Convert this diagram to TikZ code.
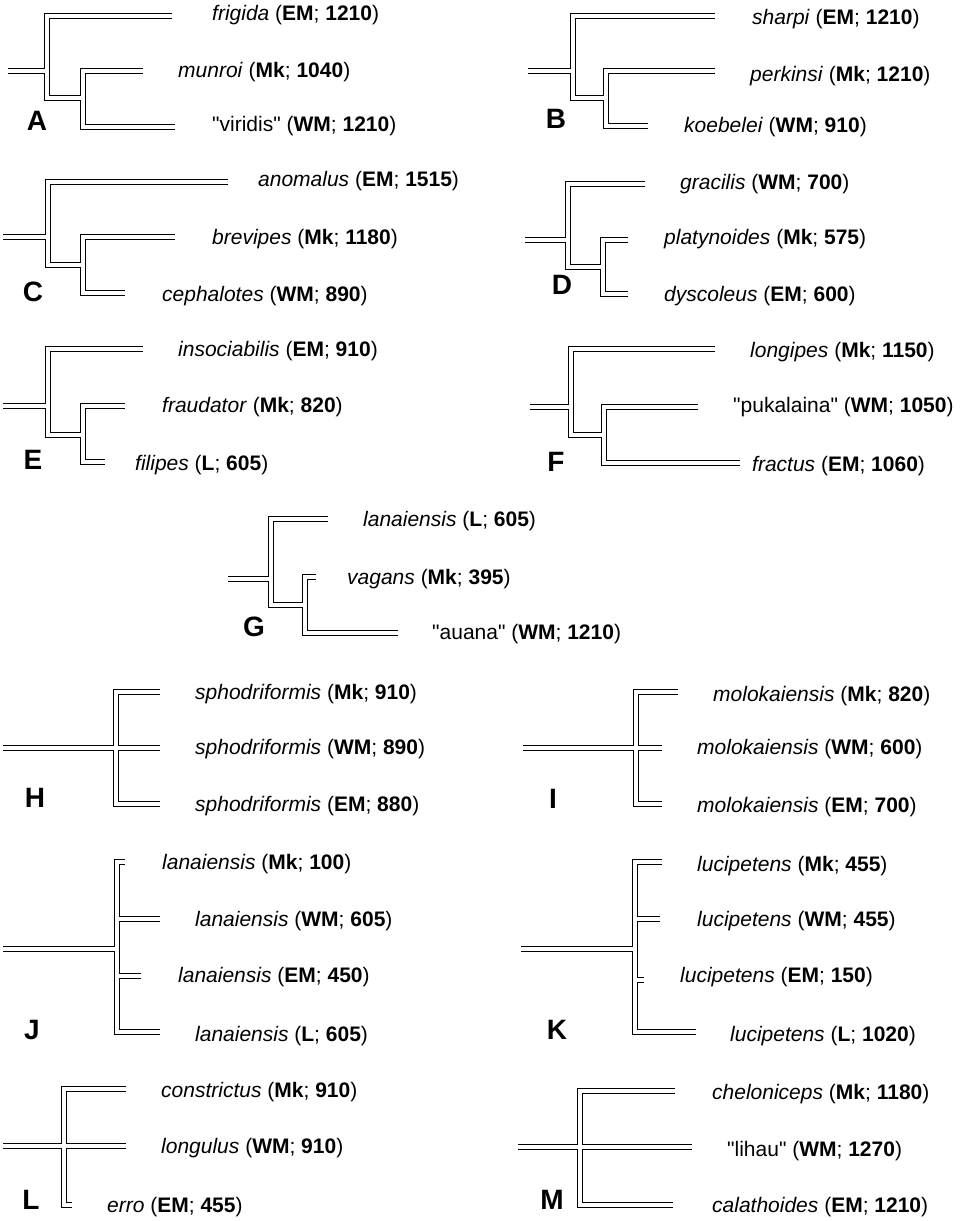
\documentclass[tikz,border=0pt]{standalone}
\usepackage{fontspec}
\setmainfont{Liberation Sans}
\newfontfamily\qfont{Liberation Sans}[Ligatures=TeXOff]
\tikzset{
  blk/.style={line width=5.2pt, draw=black},
  wht/.style={line width=3.2pt, draw=white},
  lab/.style={anchor=mid west, inner sep=0pt, font=\fontsize{21}{25}\selectfont},
  big/.style={inner sep=0pt, font=\fontsize{28}{30}\selectfont\bfseries},
}
% two-level tree: prefix; coordinates r,a,b,c,d,t1,t2,t3
\newcommand\twotree[1]{%
  \foreach \s in {blk,wht}{%
    \draw[\s] (#1t1) -- (#1a) -- (#1b) -- (#1b -| #1c);
    \draw[\s] (#1t2) -- (#1c) -- (#1d) -- (#1t3);
    \draw[\s] (#1r) -- (#1r -| #1a);
  }}
% three tips, root crossing the vertical
\newcommand\crosstree[1]{%
  \foreach \s in {blk,wht}{%
    \draw[\s] (#1t1) -- (#1top) -- (#1bot) -- (#1t3);
    \draw[\s] (#1r) -- (#1t2);
  }}
% four tips
\newcommand\fourtree[1]{%
  \foreach \s in {blk,wht}{%
    \draw[\s] (#1t1) -- (#1top) -- (#1bot) -- (#1t4);
    \draw[\s] (#1r) -- (#1r -| #1top);
    \draw[\s] (#1t2 -| #1top) -- (#1t2);
    \draw[\s] (#1t3 -| #1top) -- (#1t3);
  }}
\newcommand\spl[3]{\textit{#1} (\textbf{#2}; \textbf{#3})}
\newcommand\qspl[3]{{\qfont"#1"} (\textbf{#2}; \textbf{#3})}
\begin{document}
\begin{tikzpicture}[x=1pt,y=-1pt]
\useasboundingbox[fill=white] (0,0) rectangle (959,1221);

% ---------- A ----------
\coordinate (Ar) at (8,71);
\coordinate (Aa) at (47,16);  \coordinate (Ab) at (47,98);
\coordinate (Ac) at (83,71);  \coordinate (Ad) at (83,127);
\coordinate (At1) at (172,16); \coordinate (At2) at (143,71); \coordinate (At3) at (175,127);
\twotree{A}
\node[lab] (Al1) at (212,18) {\spl{frigida}{EM}{1210}};
\node[lab] (Al2) at (178,75) {\spl{munroi}{Mk}{1040}};
\node[lab] (Al3) at (212,129) {\qspl{viridis}{WM}{1210}};
\node[big] (AL) at (37,121) {A};

% ---------- B ----------
\coordinate (Br) at (528,71);
\coordinate (Ba) at (573,16);  \coordinate (Bb) at (573,98);
\coordinate (Bc) at (606,71);  \coordinate (Bd) at (606,126);
\coordinate (Bt1) at (715,16); \coordinate (Bt2) at (715,71); \coordinate (Bt3) at (648,126);
\twotree{B}
\node[lab] (Bl1) at (752,22) {\spl{sharpi}{EM}{1210}};
\node[lab] (Bl2) at (750,79) {\spl{perkinsi}{Mk}{1210}};
\node[lab] (Bl3) at (684,130) {\spl{koebelei}{WM}{910}};
\node[big] (BL) at (556,119) {B};

% ---------- C ----------
\coordinate (Cr) at (3,237);
\coordinate (Ca) at (48,182);  \coordinate (Cb) at (48,265);
\coordinate (Cc) at (83,237);  \coordinate (Cd) at (83,293);
\coordinate (Ct1) at (228,182); \coordinate (Ct2) at (175,237); \coordinate (Ct3) at (125,293);
\twotree{C}
\node[lab] (Cl1) at (258,184) {\spl{anomalus}{EM}{1515}};
\node[lab] (Cl2) at (212,242) {\spl{brevipes}{Mk}{1180}};
\node[lab] (Cl3) at (162,299) {\spl{cephalotes}{WM}{890}};
\node[big] (CL) at (33,292) {C};

% ---------- D ----------
\coordinate (Dr) at (525,240);
\coordinate (Da) at (568,184);  \coordinate (Db) at (568,267);
\coordinate (Dc) at (603,240);  \coordinate (Dd) at (603,294);
\coordinate (Dt1) at (645,184); \coordinate (Dt2) at (628,240); \coordinate (Dt3) at (628,294);
\twotree{D}
\node[lab] (Dl1) at (680,187) {\spl{gracilis}{WM}{700}};
\node[lab] (Dl2) at (664,242) {\spl{platynoides}{Mk}{575}};
\node[lab] (Dl3) at (664,299) {\spl{dyscoleus}{EM}{600}};
\node[big] (DL) at (562,285) {D};

% ---------- E ----------
\coordinate (Er) at (3,406);
\coordinate (Ea) at (48,349);  \coordinate (Eb) at (48,435);
\coordinate (Ec) at (83,406);  \coordinate (Ed) at (83,462);
\coordinate (Et1) at (143,349); \coordinate (Et2) at (125,406); \coordinate (Et3) at (105,462);
\twotree{E}
\node[lab] (El1) at (178,354) {\spl{insociabilis}{EM}{910}};
\node[lab] (El2) at (162,410) {\spl{fraudator}{Mk}{820}};
\node[lab] (El3) at (135,468) {\spl{filipes}{L}{605}};
\node[big] (EL) at (33,460) {E};

% ---------- F ----------
\coordinate (Fr) at (530,407);
\coordinate (Fa) at (571,349);  \coordinate (Fb) at (571,435);
\coordinate (Fc) at (604,407);  \coordinate (Fd) at (604,463);
\coordinate (Ft1) at (715,349); \coordinate (Ft2) at (698,407); \coordinate (Ft3) at (740,463);
\twotree{F}
\node[lab] (Fl1) at (750,355) {\spl{longipes}{Mk}{1150}};
\node[lab] (Fl2) at (733,410) {\qspl{pukalaina}{WM}{1050}};
\node[lab] (Fl3) at (752,469) {\spl{fractus}{EM}{1060}};
\node[big] (FL) at (556,462) {F};

% ---------- G ----------
\coordinate (Gr) at (228,579);
\coordinate (Ga) at (271,519);  \coordinate (Gb) at (271,605);
\coordinate (Gc) at (305,577);  \coordinate (Gd) at (305,633);
\coordinate (Gt1) at (328,519); \coordinate (Gt2) at (316,577); \coordinate (Gt3) at (398,633);
\twotree{G}
\node[lab] (Gl1) at (363,524) {\spl{lanaiensis}{L}{605}};
\node[lab] (Gl2) at (347,582) {\spl{vagans}{Mk}{395}};
\node[lab] (Gl3) at (432,637) {\qspl{auana}{WM}{1210}};
\node[big] (GL) at (254,627) {G};

% ---------- H ----------
\coordinate (Hr) at (3,748);
\coordinate (Htop) at (116,692); \coordinate (Hbot) at (116,804);
\coordinate (Ht1) at (160,692); \coordinate (Ht2) at (160,748); \coordinate (Ht3) at (160,804);
\crosstree{H}
\node[lab] (Hl1) at (195,697) {\spl{sphodriformis}{Mk}{910}};
\node[lab] (Hl2) at (195,752) {\spl{sphodriformis}{WM}{890}};
\node[lab] (Hl3) at (195,809) {\spl{sphodriformis}{EM}{880}};
\node[big] (HL) at (35,798) {H};

% ---------- I ----------
\coordinate (Ir) at (523,748);
\coordinate (Itop) at (636,692); \coordinate (Ibot) at (636,804);
\coordinate (It1) at (678,692); \coordinate (It2) at (662,748); \coordinate (It3) at (662,804);
\crosstree{I}
\node[lab] (Il1) at (713,699) {\spl{molokaiensis}{Mk}{820}};
\node[lab] (Il2) at (697,752) {\spl{molokaiensis}{WM}{600}};
\node[lab] (Il3) at (697,810) {\spl{molokaiensis}{EM}{700}};
\node[big] (IL) at (553,799) {I};

% ---------- J ----------
\coordinate (Jr) at (3,949);
\coordinate (Jtop) at (117,862); \coordinate (Jbot) at (117,1032);
\coordinate (Jt1) at (125,862); \coordinate (Jt2) at (160,919);
\coordinate (Jt3) at (141,976); \coordinate (Jt4) at (160,1032);
\fourtree{J}
\node[lab] (Jl1) at (162,867) {\spl{lanaiensis}{Mk}{100}};
\node[lab] (Jl2) at (195,924) {\spl{lanaiensis}{WM}{605}};
\node[lab] (Jl3) at (178,980) {\spl{lanaiensis}{EM}{450}};
\node[lab] (Jl4) at (195,1039) {\spl{lanaiensis}{L}{605}};
\node[big] (JL) at (32,1030) {J};

% ---------- K ----------
\coordinate (Kr) at (521,949);
\coordinate (Ktop) at (635,862); \coordinate (Kbot) at (635,1032);
\coordinate (Kt1) at (662,862); \coordinate (Kt2) at (660,919);
\coordinate (Kt3) at (644,980); \coordinate (Kt4) at (696,1032);
\fourtree{K}
\node[lab] (Kl1) at (697,869) {\spl{lucipetens}{Mk}{455}};
\node[lab] (Kl2) at (697,924) {\spl{lucipetens}{WM}{455}};
\node[lab] (Kl3) at (680,980) {\spl{lucipetens}{EM}{150}};
\node[lab] (Kl4) at (730,1039) {\spl{lucipetens}{L}{1020}};
\node[big] (KL) at (557,1030) {K};

% ---------- L ----------
\coordinate (Lr) at (3,1146);
\coordinate (Ltop) at (64,1089); \coordinate (Lbot) at (64,1205);
\coordinate (Lt1) at (126,1089); \coordinate (Lt2) at (126,1146); \coordinate (Lt3) at (72,1205);
\crosstree{L}
\node[lab] (Ll1) at (161,1095) {\spl{constrictus}{Mk}{910}};
\node[lab] (Ll2) at (161,1151) {\spl{longulus}{WM}{910}};
\node[lab] (Ll3) at (107,1210) {\spl{erro}{EM}{455}};
\node[big] (LL) at (31,1200) {L};

% ---------- M ----------
\coordinate (Mr) at (518,1147);
\coordinate (Mtop) at (580,1091); \coordinate (Mbot) at (580,1205);
\coordinate (Mt1) at (675,1091); \coordinate (Mt2) at (692,1147); \coordinate (Mt3) at (673,1205);
\crosstree{M}
\node[lab] (Ml1) at (712,1097) {\spl{cheloniceps}{Mk}{1180}};
\node[lab] (Ml2) at (727,1154) {\qspl{lihau}{WM}{1270}};
\node[lab] (Ml3) at (712,1210) {\spl{calathoides}{EM}{1210}};
\node[big] (ML) at (552,1200) {M};
\end{tikzpicture}
\end{document}
